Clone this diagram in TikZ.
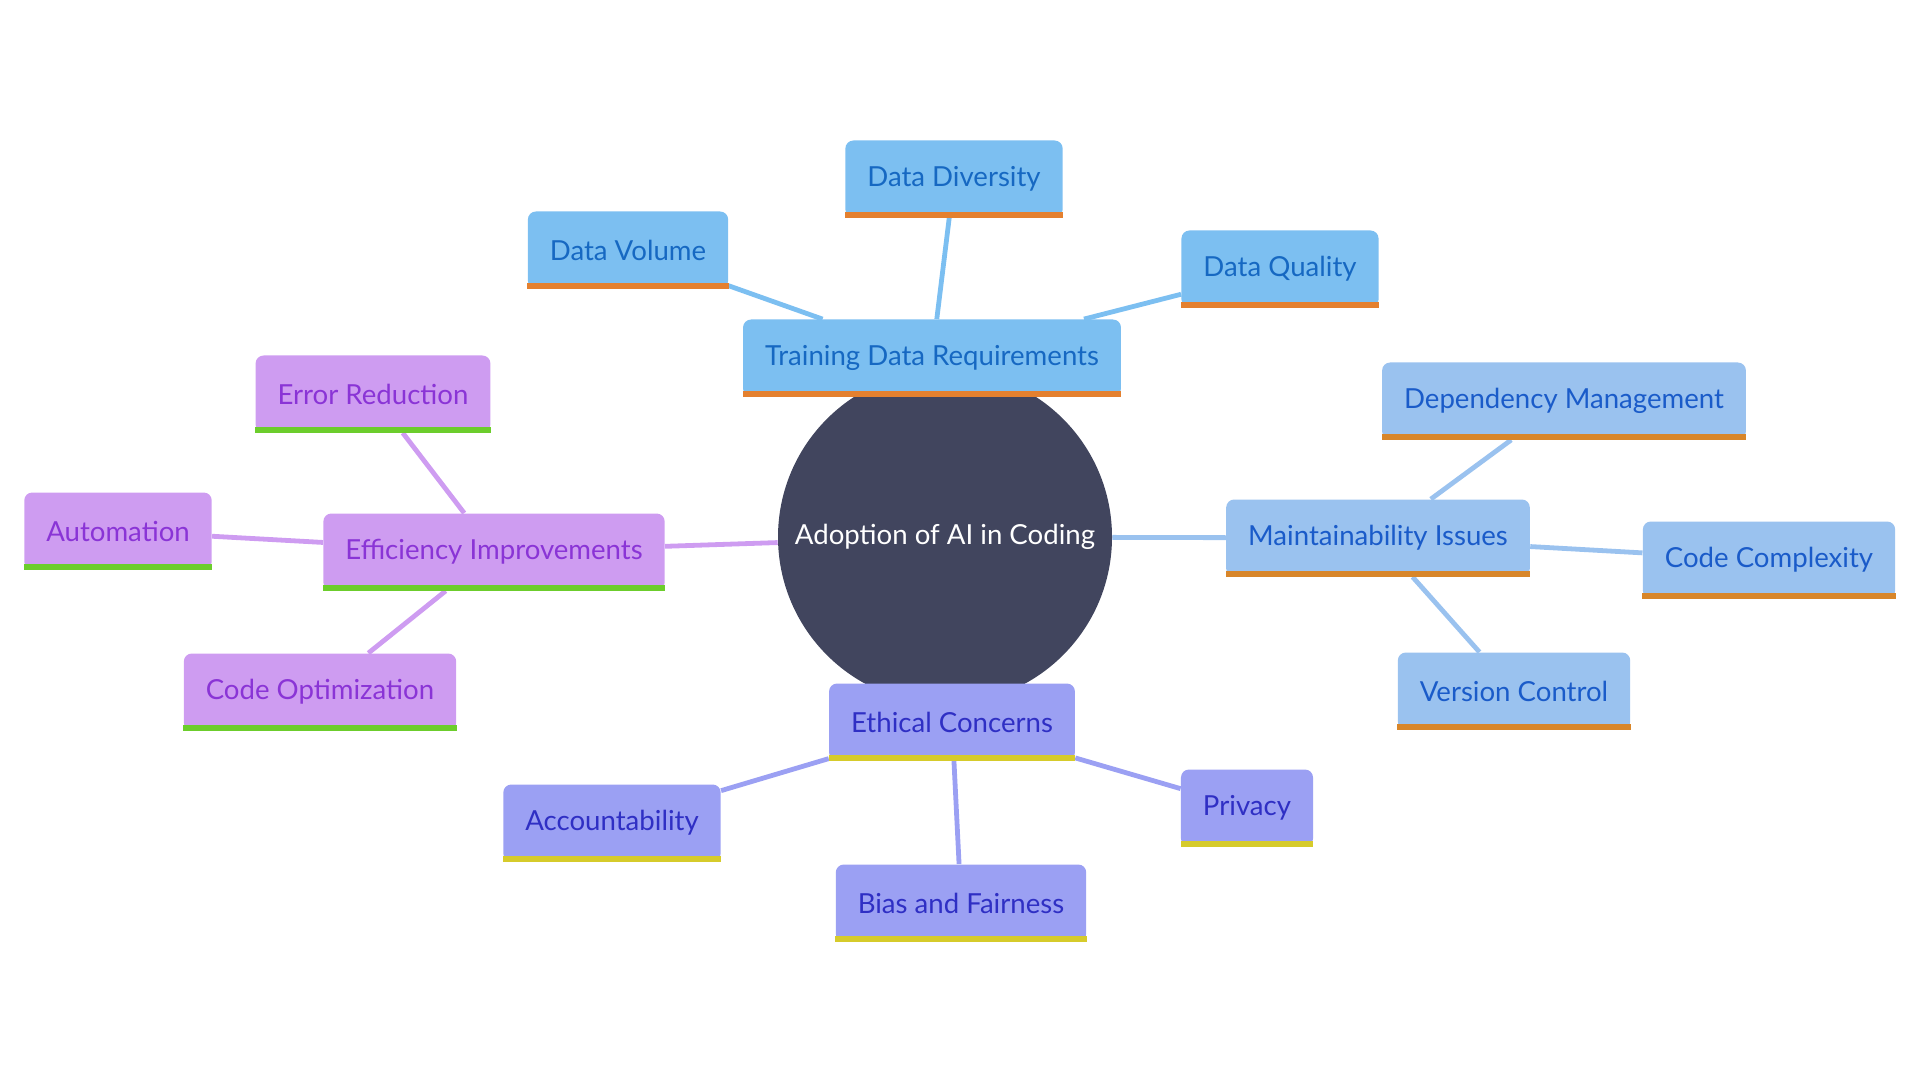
\documentclass[tikz,border=0pt]{standalone}
\usepackage{fontspec}
\setmainfont{Lato}
\usepackage{tikz}
\usetikzlibrary{positioning,backgrounds}
\definecolor{hubc}{HTML}{41455E}
\definecolor{trfill}{HTML}{7CBFF1}
\definecolor{trtext}{HTML}{1668C2}
\definecolor{trbar}{HTML}{E4802F}
\definecolor{mnfill}{HTML}{9AC2EF}
\definecolor{mntext}{HTML}{1A5BC9}
\definecolor{mnbar}{HTML}{D8862A}
\definecolor{effill}{HTML}{CE9CF1}
\definecolor{eftext}{HTML}{8A34D6}
\definecolor{efbar}{HTML}{6CCD2C}
\definecolor{etfill}{HTML}{9BA0F3}
\definecolor{ettext}{HTML}{2F2FC4}
\definecolor{etbar}{HTML}{D6CB2B}
\tikzset{
  hub/.style ={circle, fill=hubc, text=white, minimum size=167pt, inner sep=0pt, font=\fontsize{13.8}{16}\selectfont},
  box/.style ={rectangle, rounded corners=4pt, minimum height=38.5pt, inner xsep=11pt, font=\fontsize{13.8}{16}\selectfont},
  trn/.style ={box, fill=trfill, text=trtext},
  mnt/.style ={box, fill=mnfill, text=mntext},
  eff/.style ={box, fill=effill, text=eftext},
  eth/.style ={box, fill=etfill, text=ettext},
  etr/.style ={line width=2.4pt, trfill},
  emn/.style ={line width=2.4pt, mnfill},
  eef/.style ={line width=2.4pt, effill},
  eet/.style ={line width=2.4pt, etfill},
}

\begin{document}
\begin{tikzpicture}[x=0.5pt, y=-0.5pt]
        \useasboundingbox (0,0) rectangle (1920,1080);
        \node[hub]  (hub)   at (945,537)  {Adoption of AI in Coding};
        \node[trn]  (tdr)   at (932,358)  {Training Data Requirements};
        \node[trn]  (dvol)  at (628,250)  {Data Volume};
        \node[trn]  (ddiv)  at (954,179)  {Data Diversity};
        \node[trn]  (dqual) at (1280,269) {Data Quality};
        \node[mnt]  (mnt)   at (1378,538) {Maintainability Issues};
        \node[mnt]  (dep)   at (1564,401) {Dependency Management};
        \node[mnt]  (cplx)  at (1769,560) {Code Complexity};
        \node[mnt]  (ver)   at (1514,691) {Version Control};
        \node[eff]  (effi)  at (494,552)  {Efficiency Improvements};
        \node[eff]  (err)   at (373,394)  {Error Reduction};
        \node[eff]  (auto)  at (118,531)  {Automation};
        \node[eff]  (opt)   at (320,692)  {Code Optimization};
        \node[eth]  (ethc)  at (952,722)  {Ethical Concerns};
        \node[eth]  (acc)   at (612,823)  {Accountability};
        \node[eth]  (priv)  at (1247,808) {Privacy};
        \node[eth]  (bias)  at (961,903)  {Bias and Fairness};
        \foreach \n/\c in {tdr/trbar, dvol/trbar, ddiv/trbar, dqual/trbar,
                           mnt/mnbar, dep/mnbar, cplx/mnbar, ver/mnbar,
                           effi/efbar, err/efbar, auto/efbar, opt/efbar,
                           ethc/etbar, acc/etbar, priv/etbar, bias/etbar}
          \fill[\c] (\n.south west) rectangle ([yshift=3pt]\n.south east);
        \begin{scope}[on background layer]
          \draw[etr] (hub) -- (tdr);
          \draw[etr] (tdr) -- (dvol);
          \draw[etr] (tdr) -- (ddiv);
          \draw[etr] (tdr) -- (dqual);
          \draw[emn] (hub) -- (mnt);
          \draw[emn] (mnt) -- (dep);
          \draw[emn] (mnt) -- (cplx);
          \draw[emn] (mnt) -- (ver);
          \draw[eef] (hub) -- (effi);
          \draw[eef] (effi) -- (err);
          \draw[eef] (effi) -- (auto);
          \draw[eef] (effi) -- (opt);
          \draw[eet] (hub) -- (ethc);
          \draw[eet] (ethc) -- (acc);
          \draw[eet] (ethc) -- (priv);
          \draw[eet] (ethc) -- (bias);
        \end{scope}
      \end{tikzpicture}
\end{document}
